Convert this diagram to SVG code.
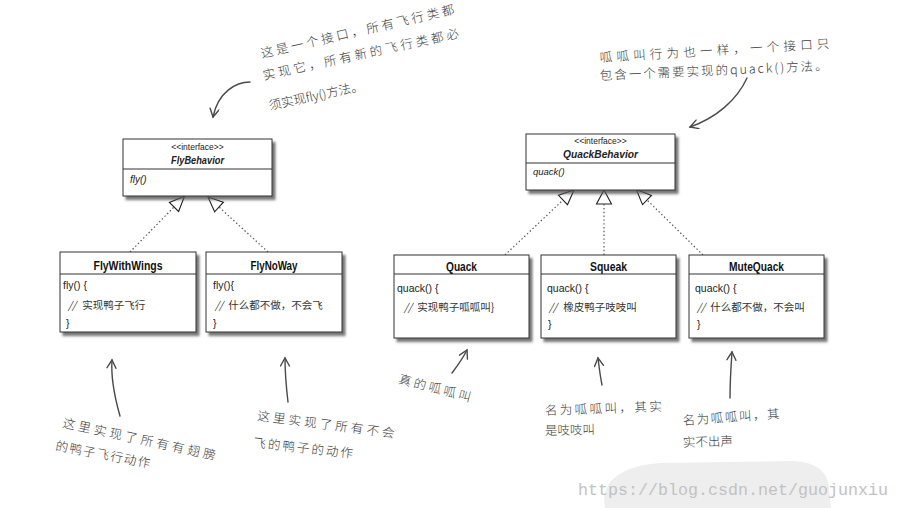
<svg xmlns="http://www.w3.org/2000/svg" width="899" height="508" viewBox="0 0 899 508">
<defs>
<style>
.bx{fill:#fff;stroke:#333;stroke-width:1}
.dv{stroke:#333;stroke-width:1}
.s{font-family:"Liberation Sans",Arial,sans-serif;fill:#222}
.cj{font-family:"Noto Sans CJK SC","Liberation Sans",sans-serif;fill:#333;font-size:10.5px}
.nm{font-family:"Liberation Sans",Arial,sans-serif;font-weight:bold;font-size:12.5px;fill:#111;text-anchor:middle}
.hd{font-family:"Noto Sans CJK SC","Liberation Sans",sans-serif;font-weight:300;font-size:12.5px;fill:#3a3a3a}
.dot{stroke:#555;stroke-width:1.2;stroke-dasharray:1.4 2.4;fill:none}
.tri{fill:#fff;stroke:#222;stroke-width:1.1}
.hw{stroke:#4a4a4a;stroke-width:1.4;fill:none;stroke-linecap:round}
</style>
<filter id="sh" x="-10%" y="-10%" width="130%" height="140%">
<feDropShadow dx="3" dy="3.5" stdDeviation="1.3" flood-color="#555" flood-opacity="0.8"/>
</filter>
<marker id="ah" markerWidth="12" markerHeight="12" refX="9" refY="5" orient="auto" markerUnits="userSpaceOnUse">
<path d="M1,0.5 L9,5 L1,9.5" fill="none" stroke="#4a4a4a" stroke-width="1.4" stroke-linecap="round"/>
</marker>
</defs>
<rect width="899" height="508" fill="#fff"/>
<path d="M605,508 C600,482 620,466 660,463 L790,461 C815,461 829,471 829,490 L831,508 Z" fill="#eeeeee"/>

<g id="connectors">
<line class="dot" x1="130" y1="252" x2="174" y2="207"/>
<line class="dot" x1="268" y1="252" x2="219" y2="207"/>
<line class="dot" x1="505" y1="255" x2="563" y2="200"/>
<line class="dot" x1="604" y1="255" x2="604" y2="204"/>
<line class="dot" x1="703" y1="255" x2="647" y2="200"/>
<polygon class="tri" points="184.5,196.3 178.6,211.5 169.4,202.5"/>
<polygon class="tri" points="208,197 223.4,202.2 214.6,211.8"/>
<polygon class="tri" points="574,190 567.5,204.7 558.5,195.3"/>
<polygon class="tri" points="604,190 611.5,204 596.5,204"/>
<polygon class="tri" points="636.3,189.5 651.5,195.4 642.5,204.6"/>
</g>

<g id="FlyBehavior">
<rect class="bx" x="123" y="139" width="149" height="57" filter="url(#sh)"/>
<line class="dv" x1="123" y1="169" x2="272" y2="169"/>
<text class="s" x="197.5" y="150" font-size="8.5" text-anchor="middle">&lt;&lt;interface&gt;&gt;</text>
<text class="s" x="197.5" y="164" font-size="11.5" font-weight="bold" font-style="italic" text-anchor="middle" textLength="53" lengthAdjust="spacingAndGlyphs">FlyBehavior</text>
<text class="s" x="130" y="183" font-size="10" font-style="italic">fly()</text>
</g>

<g id="QuackBehavior">
<rect class="bx" x="526" y="134" width="149" height="56" filter="url(#sh)"/>
<line class="dv" x1="526" y1="163" x2="675" y2="163"/>
<text class="s" x="600.5" y="144" font-size="8.5" text-anchor="middle">&lt;&lt;interface&gt;&gt;</text>
<text class="s" x="600.5" y="158" font-size="11.5" font-weight="bold" font-style="italic" text-anchor="middle" textLength="75" lengthAdjust="spacingAndGlyphs">QuackBehavior</text>
<text class="s" x="533" y="175" font-size="9.5" font-style="italic">quack()</text>
</g>

<g id="FlyWithWings">
<rect class="bx" x="60" y="252" width="136" height="80" filter="url(#sh)"/>
<line class="dv" x1="60" y1="274" x2="196" y2="274"/>
<text class="nm" x="128" y="270" textLength="69" lengthAdjust="spacingAndGlyphs">FlyWithWings</text>
<text class="s" x="63" y="289" font-size="10.5">fly() {</text>
<text class="cj" x="68" y="309"><tspan font-style="italic">//</tspan><tspan dx="6">实现鸭子飞行</tspan></text>
<text class="s" x="66" y="327" font-size="10.5">}</text>
</g>

<g id="FlyNoWay">
<rect class="bx" x="206" y="252" width="136" height="80" filter="url(#sh)"/>
<line class="dv" x1="206" y1="274" x2="342" y2="274"/>
<text class="nm" x="274" y="270" textLength="47" lengthAdjust="spacingAndGlyphs">FlyNoWay</text>
<text class="s" x="213" y="289" font-size="10.5">fly(){</text>
<text class="cj" x="215" y="309"><tspan font-style="italic">//</tspan><tspan dx="5">什么都不做，不会飞</tspan></text>
<text class="s" x="213" y="327" font-size="10.5">}</text>
</g>

<g id="Quack">
<rect class="bx" x="394" y="255" width="135" height="83" filter="url(#sh)"/>
<line class="dv" x1="394" y1="274" x2="529" y2="274"/>
<text class="nm" x="461.5" y="271" textLength="31" lengthAdjust="spacingAndGlyphs">Quack</text>
<text class="s" x="397" y="292" font-size="10.5">quack() {</text>
<text class="cj" x="404" y="311"><tspan font-style="italic">//</tspan><tspan dx="5">实现鸭子呱呱叫}</tspan></text>
</g>

<g id="Squeak">
<rect class="bx" x="541" y="255" width="135" height="83" filter="url(#sh)"/>
<line class="dv" x1="541" y1="274" x2="676" y2="274"/>
<text class="nm" x="608.5" y="271" textLength="37" lengthAdjust="spacingAndGlyphs">Squeak</text>
<text class="s" x="547" y="292" font-size="10.5">quack() {</text>
<text class="cj" x="549" y="311"><tspan font-style="italic">//</tspan><tspan dx="6">橡皮鸭子吱吱叫</tspan></text>
<text class="s" x="548" y="328" font-size="10.5">}</text>
</g>

<g id="MuteQuack">
<rect class="bx" x="689" y="255" width="135" height="83" filter="url(#sh)"/>
<line class="dv" x1="689" y1="274" x2="824" y2="274"/>
<text class="nm" x="756.5" y="271" textLength="55" lengthAdjust="spacingAndGlyphs">MuteQuack</text>
<text class="s" x="695" y="292" font-size="10.5">quack() {</text>
<text class="cj" x="697" y="311"><tspan font-style="italic">//</tspan><tspan dx="5">什么都不做，不会叫</tspan></text>
<text class="s" x="697" y="328" font-size="10.5">}</text>
</g>

<g id="note-fly-interface">
<text class="hd" transform="translate(262,58) rotate(-13)" textLength="198" lengthAdjust="spacing">这是一个接口，所有飞行类都</text>
<text class="hd" transform="translate(264,80) rotate(-12.3)" textLength="200" lengthAdjust="spacing">实现它，所有新的飞行类都必</text>
<text class="hd" transform="translate(270,110) rotate(-12)" textLength="96" lengthAdjust="spacing">须实现fly()方法。</text>
<path class="hw" d="M250,82 C236,82 218,92 213,117" marker-end="url(#ah)"/>
</g>

<g id="note-quack-interface">
<text class="hd" transform="translate(600,62) rotate(-3.5)" textLength="230" lengthAdjust="spacing">呱呱叫行为也一样，一个接口只</text>
<text class="hd" transform="translate(600,80) rotate(-2.5)" textLength="228" lengthAdjust="spacing">包含一个需要实现的quack()方法。</text>
<path class="hw" d="M747,78 C737,100 716,118 690,127" marker-end="url(#ah)"/>
</g>

<g id="note-flywithwings">
<path class="hw" d="M120,416 C114,395 111,375 112,360" marker-end="url(#ah)"/>
<text class="hd" transform="translate(62,427) rotate(12.2)" textLength="156" lengthAdjust="spacing">这里实现了所有有翅膀</text>
<text class="hd" transform="translate(55,450) rotate(10.7)" textLength="96" lengthAdjust="spacing">的鸭子飞行动作</text>
</g>

<g id="note-flynoway">
<path class="hw" d="M288,402 C286,385 285,370 285,358" marker-end="url(#ah)"/>
<text class="hd" transform="translate(257,420) rotate(7.4)" textLength="138" lengthAdjust="spacing">这里实现了所有不会</text>
<text class="hd" transform="translate(253,447) rotate(6.3)" textLength="100" lengthAdjust="spacing">飞的鸭子的动作</text>
</g>

<g id="note-quack">
<path class="hw" d="M452,373 C458,365 463,358 467,350" marker-end="url(#ah)"/>
<text class="hd" transform="translate(398,383) rotate(14.8)" textLength="74" lengthAdjust="spacing">真的呱呱叫</text>
</g>

<g id="note-squeak">
<path class="hw" d="M602,385 C600,375 599,366 598,358" marker-end="url(#ah)"/>
<text class="hd" transform="translate(545,415) rotate(-2)" textLength="117" lengthAdjust="spacing">名为呱呱叫，其实</text>
<text class="hd" transform="translate(545,435) rotate(-1)" textLength="50" lengthAdjust="spacing">是吱吱叫</text>
</g>

<g id="note-mutequack">
<path class="hw" d="M730,398 C730,380 731,366 732,352" marker-end="url(#ah)"/>
<text class="hd" transform="translate(683,425) rotate(-4)" textLength="97" lengthAdjust="spacing">名为呱呱叫，其</text>
<text class="hd" transform="translate(683,447) rotate(-2)" textLength="50" lengthAdjust="spacing">实不出声</text>
</g>

<text x="578" y="495" font-family="'Liberation Mono','DejaVu Sans Mono',monospace" font-size="17" fill="#c2c2c2" textLength="310" lengthAdjust="spacingAndGlyphs">https://blog.csdn.net/guojunxiu</text>
</svg>
